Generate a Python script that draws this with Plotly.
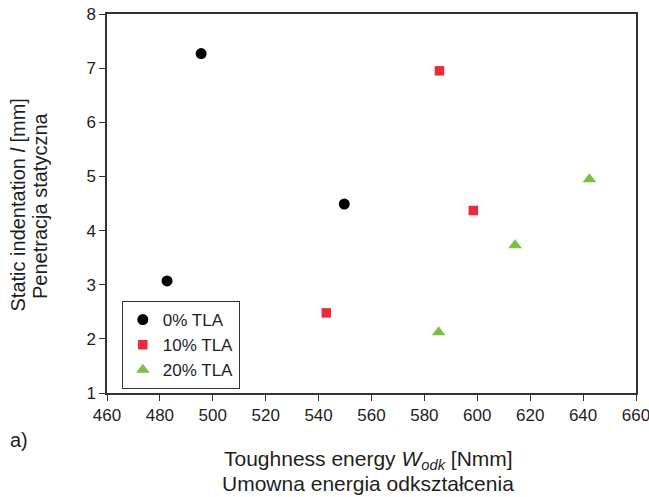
import plotly.graph_objects as go

# Data
tla0_x = [482.7, 495.6, 549.7]
tla0_y = [3.07, 7.27, 4.49]
tla10_x = [542.9, 585.7, 598.5]
tla10_y = [2.48, 6.95, 4.37]
tla20_x = [585.4, 614.3, 642.4]
tla20_y = [2.12, 3.73, 4.95]
series_names = ["0% TLA", "10% TLA", "20% TLA"]
x_ticks = [460, 480, 500, 520, 540, 560, 580, 600, 620, 640, 660]
y_ticks = [1, 2, 3, 4, 5, 6, 7, 8]

FONT = "Liberation Sans, Arial, sans-serif"
TXT = "#1e1e1e"

fig = go.Figure()
fig.add_trace(go.Scatter(x=tla0_x, y=tla0_y, mode="markers", name=series_names[0],
                         marker=dict(symbol="circle", size=11, color="#000000")))
fig.add_trace(go.Scatter(x=tla10_x, y=tla10_y, mode="markers", name=series_names[1],
                         marker=dict(symbol="square", size=9.5, color="#EE2A3A")))
fig.add_trace(go.Scatter(x=tla20_x, y=tla20_y, mode="markers", name=series_names[2],
                         marker=dict(symbol="triangle-up", size=12, color="#7CC043")))

axis_common = dict(showgrid=False, zeroline=False, showline=True, linecolor="#333333",
                   linewidth=1.5, mirror=True, ticks="outside", ticklen=6, tickwidth=1.2,
                   tickcolor="#333333", tickfont=dict(family=FONT, size=17, color=TXT),
                   automargin=False, ticklabeloverflow="allow")

fig.update_xaxes(range=[460, 660], tickvals=x_ticks, **axis_common)
fig.update_yaxes(range=[1, 8], tickvals=y_ticks, **axis_common)

def ann(text, x, y, size, angle=0, xanchor="center"):
    return dict(text=text, textangle=angle, xref="paper", yref="paper", x=x, y=y,
                xanchor=xanchor, yanchor="middle", showarrow=False,
                font=dict(family=FONT, size=size, color=TXT))

fig.update_layout(
    width=649, height=497,
    margin=dict(l=107, r=13, t=14, b=104),
    paper_bgcolor="white", plot_bgcolor="white",
    font=dict(family=FONT, color=TXT),
    showlegend=True,
    legend=dict(x=0.028, y=0.0106, xanchor="left", yanchor="bottom",
                bgcolor="white", bordercolor="#333333", borderwidth=1,
                font=dict(family=FONT, size=17, color=TXT),
                itemwidth=30, tracegroupgap=0),
    annotations=[
        ann("Static indentation <i>l</i> [mm]", -0.1673, 0.496, 20, angle=-90),
        ann("Penetracja statyczna", -0.1267, 0.496, 20, angle=-90),
        ann("Toughness energy <i>W</i><sub><i>odk</i></sub> [Nmm]", 0.494, -0.1768, 21),
        ann("Umowna energia odkształcenia", 0.493, -0.240, 21),
        ann("a)", -0.187, -0.124, 20, xanchor="left"),
    ],
)

fig.write_html("out.html", config={"displayModeBar": False},
               post_script="document.body.style.margin='0';document.body.style.overflow='hidden';")
